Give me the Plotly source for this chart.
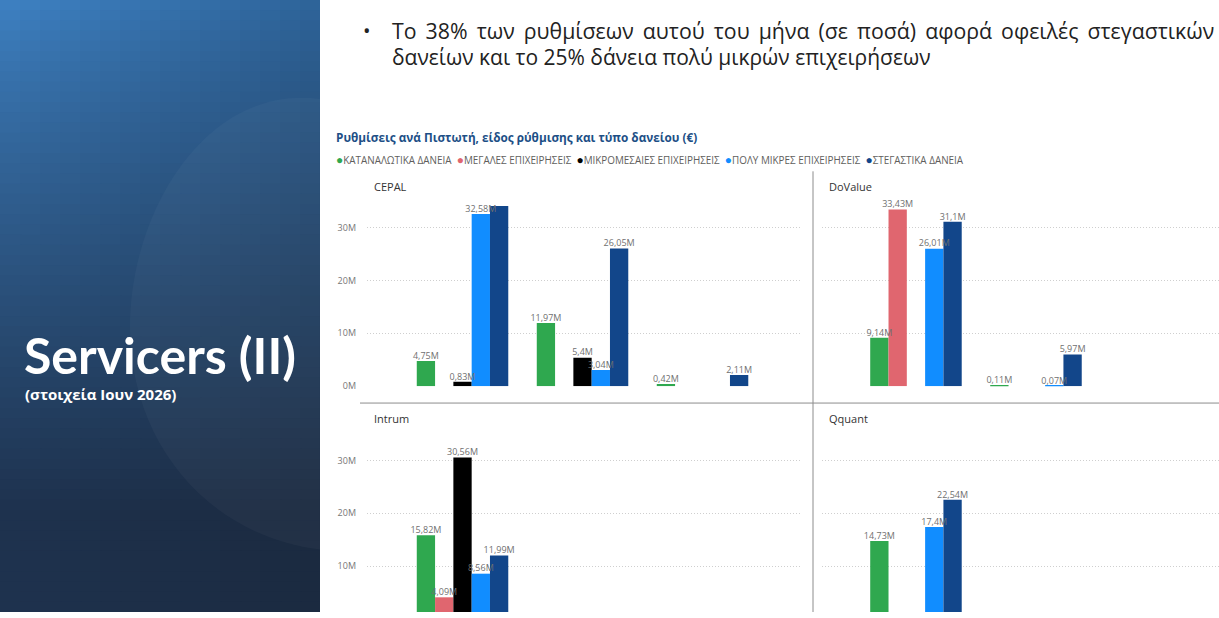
import plotly.graph_objects as go

W, H = 1219, 618

# ---- δεδομένα (εκατ. €) ----
creditors = ["CEPAL", "DoValue", "Intrum", "Qquant"]
arrangement_types = ["Είδος 1", "Είδος 2", "Είδος 3"]
loan_types = ["ΚΑΤΑΝΑΛΩΤΙΚΑ ΔΑΝΕΙΑ", "ΜΕΓΑΛΕΣ ΕΠΙΧΕΙΡΗΣΕΙΣ", "ΜΙΚΡΟΜΕΣΑΙΕΣ ΕΠΙΧΕΙΡΗΣΕΙΣ",
              "ΠΟΛΥ ΜΙΚΡΕΣ ΕΠΙΧΕΙΡΗΣΕΙΣ", "ΣΤΕΓΑΣΤΙΚΑ ΔΑΝΕΙΑ"]
loan_colors = ["#2fa84f", "#e0666f", "#000000", "#118dff", "#12468a"]

# μία λίστα ανά τύπο δανείου, με τη σειρά του loan_types
cepal = [
    [4.75, 11.97, 0.42],
    [None, None, None],
    [0.83, 5.40, None],
    [32.58, 3.04, None],
    [34.1, 26.05, 2.11],
]
dovalue = [
    [9.14, 0.11, None],
    [33.43, None, None],
    [None, None, None],
    [26.01, 0.07, None],
    [31.1, 5.97, None],
]
intrum = [
    [15.82, 0.57, None],
    [4.09, None, None],
    [30.56, 0.01, None],
    [8.56, None, None],
    [11.99, 0.96, None],
]
qquant = [
    [14.73, 1.08, None],
    [None, None, None],
    [None, None, None],
    [17.4, 0.17, None],
    [22.54, None, None],
]
panel_values = [cepal, dovalue, intrum, qquant]

# ετικέτες που το Power BI έκρυψε λόγω επικάλυψης
hidden_labels = {("CEPAL", 4, 0)}

y_ticks = [0, 10, 20, 30]


def fmt(v):
    s = f"{v:.2f}".rstrip("0").rstrip(".")
    return s.replace(".", ",") + "M"


BARGAP = 0.2375
bar_w = (1 - BARGAP) / len(loan_types)
cat_pos = list(range(len(arrangement_types)))

fig = go.Figure()

for p, name in enumerate(creditors):
    ax = "" if p == 0 else str(p + 1)
    for s, loan in enumerate(loan_types):
        vals = panel_values[p][s]
        fig.add_trace(go.Bar(
            x=cat_pos, y=vals, name=loan, customdata=arrangement_types,
            marker=dict(color=loan_colors[s], line_width=0),
            cliponaxis=False, showlegend=False, hoverinfo="skip",
            xaxis="x" + ax, yaxis="y" + ax,
        ))
    # ετικέτες τιμών πάνω από κάθε στήλη
    lx, ly, lt = [], [], []
    for s in range(len(loan_types)):
        for c, v in enumerate(panel_values[p][s]):
            if v is None or (name, s, c) in hidden_labels:
                continue
            lx.append(c + (s - (len(loan_types) - 1) / 2) * bar_w)
            ly.append(v)
            lt.append(fmt(v))
    fig.add_trace(go.Scatter(
        x=lx, y=ly, text=lt, mode="text", textposition="top center",
        textfont=dict(size=9, color="#707070", family="Open Sans"),
        cliponaxis=False, showlegend=False, hoverinfo="skip",
        xaxis="x" + ax, yaxis="y" + ax,
    ))

# ---- άξονες ----
px_per_m = 190 / 35.6
x_left = [367 / W, 802 / W]
x_right = [822 / W, 1.0]
y_top = [1 - 390 / H, 1 - 200 / H]
y_bot = [0.0, 1 - 435 / H]
bottom_min = 35.6 - 183 / px_per_m

xcommon = dict(showticklabels=False, showgrid=False, zeroline=False, showline=False,
               fixedrange=True)
ycommon = dict(showgrid=True, gridcolor="#cfcfcf", griddash="1px,2px", gridwidth=1,
               zeroline=False, showline=False, tickmode="array", tickvals=y_ticks,
               ticktext=[f"{v}M" for v in y_ticks],
               tickfont=dict(size=9, color="#777777", family="Open Sans"),
               ticks="", ticklabelstandoff=10, fixedrange=True)

fig.update_layout(
    xaxis=dict(xcommon, domain=x_left, range=[-0.796, 2.829], anchor="y"),
    xaxis2=dict(xcommon, domain=x_right, range=[-0.783, 2.525], anchor="y2"),
    xaxis3=dict(xcommon, domain=x_left, range=[-0.796, 2.829], anchor="y3"),
    xaxis4=dict(xcommon, domain=x_right, range=[-0.783, 2.525], anchor="y4"),
    yaxis=dict(ycommon, domain=y_top, range=[-0.01, 35.6], anchor="x"),
    yaxis2=dict(ycommon, domain=y_top, range=[-0.01, 35.6], anchor="x2", showticklabels=False),
    yaxis3=dict(ycommon, domain=y_bot, range=[bottom_min, 35.6], anchor="x3"),
    yaxis4=dict(ycommon, domain=y_bot, range=[bottom_min, 35.6], anchor="x4", showticklabels=False),
    barmode="group", bargap=BARGAP, bargroupgap=0,
    width=W, height=H, margin=dict(l=0, r=0, t=0, b=0),
    paper_bgcolor="white", plot_bgcolor="white",
    font=dict(family="Open Sans"),
)

shapes = []

# αριστερό πάνελ διαφάνειας: διαβάθμιση μπλε με λωρίδες
tl, tr = (62, 130, 196), (46, 100, 154)
bl, br = (30, 50, 78), (27, 42, 64)
rows, cols = 60, 16
panel_w = 320
for i in range(rows):
    for j in range(cols):
        fy = (i + 0.5) / rows
        fx = (j + 0.5) / cols
        fy2 = min(1.0, fy * 1.2) ** 0.85
        c = [round((tl[k] * (1 - fx) + tr[k] * fx) * (1 - fy2) + (bl[k] * (1 - fx) + br[k] * fx) * fy2)
             for k in range(3)]
        x1 = min((j + 1) * panel_w / cols + 1.5, panel_w)
        shapes.append(dict(type="rect", xref="paper", yref="paper",
                           x0=j * panel_w / cols / W, x1=x1 / W,
                           y0=max(0, 1 - ((i + 1) * H / rows + 1.5) / H), y1=1 - i / rows,
                           fillcolor=f"rgb({c[0]},{c[1]},{c[2]})", line_width=0, layer="below"))


def pp(x, y):
    return f"{x / W:.5f},{1 - y / H:.5f}"


# φωτεινό τόξο στο πάνελ
arc = ("M " + pp(320, 100) + " C " + pp(205, 85) + " " + pp(130, 215) + " " + pp(130, 330)
       + " C " + pp(130, 445) + " " + pp(205, 540) + " " + pp(320, 555) + " Z")
shapes.append(dict(type="path", xref="paper", yref="paper", path=arc,
                   fillcolor="rgba(255,255,255,0.03)", line_width=0, layer="below"))

# διαχωριστικές γραμμές small multiples
shapes.append(dict(type="line", xref="paper", yref="paper",
                   x0=813 / W, x1=813 / W, y0=0, y1=1 - 173 / H,
                   line=dict(color="#8c8c8c", width=1)))
shapes.append(dict(type="line", xref="paper", yref="paper",
                   x0=360 / W, x1=1.0, y0=1 - 407 / H, y1=1 - 407 / H,
                   line=dict(color="#8c8c8c", width=1)))

annotations = []


def note(text, x, y, size, color, bold=False, family="Open Sans", xanchor="left"):
    if bold:
        text = "<b>" + text + "</b>"
    annotations.append(dict(text=text, x=x / W, y=1 - y / H, xref="paper", yref="paper",
                            xanchor=xanchor, yanchor="middle", showarrow=False,
                            font=dict(size=size, color=color, family=family)))


# τίτλοι πάνελ
panel_pos = [(372, 188), (827, 188), (372, 423), (827, 423)]
for name, (px, py) in zip(creditors, panel_pos):
    note(name, px, py, 11, "#333333")

# τίτλος γραφήματος και υπόμνημα
note("Ρυθμίσεις ανά Πιστωτή, είδος ρύθμισης και τύπο δανείου (€)", 334, 138, 11.75, "#1d4f86", bold=True)
legend_text = "\u00a0 ".join(
    f"<span style='color:{c};font-size:12px'>●</span>{n}" for n, c in zip(loan_types, loan_colors)
)
note(legend_text, 334, 161, 9.9, "#605e5c")

# κείμενο διαφάνειας
note("Servicers (II)", 22, 358, 50, "white", bold=True, family="Lato")
note("(στοιχεία Ιουν 2026)", 23, 398, 15, "white", bold=True)
note("•", 361, 31, 20, "#222222")
line1 = "Το 38% των ρυθμίσεων αυτού του μήνα (σε ποσά) αφορά οφειλές στεγαστικών"
note(line1.replace(" ", "\u00a0\u2009"), 390, 31, 21.3, "#222222")
note("δανείων και το 25% δάνεια πολύ μικρών επιχειρήσεων", 390, 58, 21, "#222222")

fig.update_layout(shapes=shapes, annotations=annotations)
fig.write_html(
    "out.html",
    config={"displayModeBar": False},
    post_script="document.body.style.margin='0px';",
)
